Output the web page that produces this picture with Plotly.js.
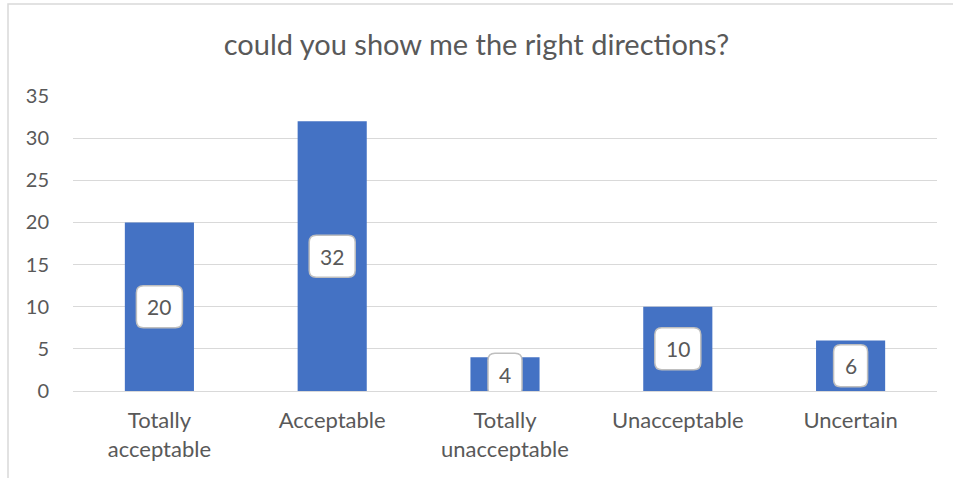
<!DOCTYPE html>
<html>
<head>
<meta charset="utf-8">
<script src="https://cdn.plot.ly/plotly-3.0.1.min.js"></script>
<style>
html,body{margin:0;padding:0;background:#fff;}
#chart{width:953px;height:478px;}
</style>
</head>
<body>
<div id="chart"></div>
<script>
const categories = ["Totally acceptable", "Acceptable", "Totally unacceptable", "Unacceptable", "Uncertain"];
const tickLabels = ["Totally<br>acceptable", "Acceptable", "Totally<br>unacceptable", "Unacceptable", "Uncertain"];
const values = [20, 32, 4, 10, 6];
const titleText = "could you show me the right directions?";

const FONT = "Lato, 'Open Sans', sans-serif";
const TXT = "#595959";

const trace = {
  type: "bar",
  x: categories,
  y: values,
  marker: {color: "#4472C4"},
  hoverinfo: "x+y"
};

// rounded rectangle path (pixels, centred on anchor)
function rrect(w, h, r) {
  const x0 = -w/2, x1 = w/2, y0 = -h/2, y1 = h/2;
  return `M${x0+r},${y0} L${x1-r},${y0} Q${x1},${y0} ${x1},${y0+r} L${x1},${y1-r} Q${x1},${y1} ${x1-r},${y1} L${x0+r},${y1} Q${x0},${y1} ${x0},${y1-r} L${x0},${y0+r} Q${x0},${y0} ${x0+r},${y0} Z`;
}

const shapes = [];
const annotations = [];
categories.forEach((c, i) => {
  const w = String(values[i]).length > 1 ? 46 : 34;
  shapes.push({
    type: "path", layer: "above",
    xref: "x", yref: "y",
    xsizemode: "pixel", ysizemode: "pixel",
    xanchor: c, yanchor: values[i] / 2,
    path: rrect(w, 42, 7),
    fillcolor: "#FFFFFF",
    line: {color: "#BFBFBF", width: 1.5}
  });
  annotations.push({
    x: c, y: values[i] / 2, xref: "x", yref: "y",
    text: String(values[i]), showarrow: false,
    font: {family: FONT, size: 21, color: TXT},
    xanchor: "center", yanchor: "middle"
  });
});

// chart frame (light border at left/top)
shapes.push({
  type: "path", layer: "below", xref: "paper", yref: "paper",
  path: "M" + ((8 - 73) / 864) + "," + (-87 / 295 - 0.1) + " L" + ((8 - 73) / 864) + "," + ((391 - 4) / 295) + " L" + ((955 - 73) / 864) + "," + ((391 - 4) / 295),
  line: {color: "#D9D9D9", width: 1.5}
});

const layout = {
  width: 953, height: 478,
  margin: {l: 73, r: 16, t: 96, b: 87},
  paper_bgcolor: "#FFFFFF",
  plot_bgcolor: "#FFFFFF",
  showlegend: false,
  bargap: 0.6,
  title: {
    text: titleText,
    font: {family: FONT, size: 29, color: TXT},
    x: 0.5, xanchor: "center",
    y: 1 - 45 / 478, yanchor: "middle", yref: "container"
  },
  xaxis: {
    type: "category",
    tickmode: "array",
    tickvals: categories,
    ticktext: tickLabels,
    tickfont: {family: FONT, size: 22, color: TXT},
    showgrid: false,
    showline: false,
    zeroline: false,
    ticks: "",
    ticklabelstandoff: 14,
    fixedrange: true
  },
  yaxis: {
    range: [0, 35],
    dtick: 5,
    tick0: 0,
    showgrid: true,
    gridcolor: "#D9D9D9",
    gridwidth: 1,
    zeroline: true,
    zerolinecolor: "#D9D9D9",
    zerolinewidth: 1,
    showline: false,
    ticks: "",
    tickfont: {family: FONT, size: 20, color: TXT},
    ticklabelstandoff: 23,
    fixedrange: true
  },
  shapes: shapes,
  annotations: annotations,
  font: {family: FONT, color: TXT}
};

Plotly.newPlot("chart", [trace], layout, {displayModeBar: false, staticPlot: true});
</script>
</body>
</html>
